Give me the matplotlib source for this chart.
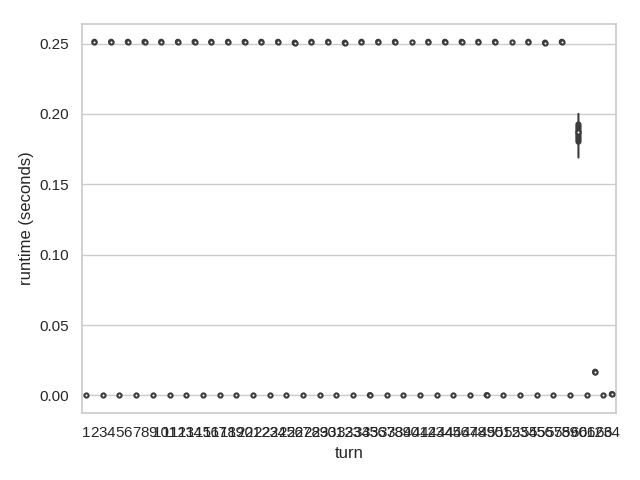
import matplotlib
matplotlib.use('Agg')
import matplotlib.pyplot as plt
import seaborn as sns
import numpy as np

# runtime (seconds) per turn, one list per game, turns 1..64
turns = list(range(1, 65))

game_a = [0.0002, 0.2513, 0.0002, 0.2513, 0.0002, 0.2513, 0.0002, 0.2513,
          0.0002, 0.2513, 0.0002, 0.2513, 0.0002, 0.2513, 0.0002, 0.2513,
          0.0002, 0.2513, 0.0002, 0.2513, 0.0002, 0.2513, 0.0002, 0.2513,
          0.0002, 0.2508, 0.0002, 0.2513, 0.0002, 0.2513, 0.0002, 0.2508,
          0.0002, 0.2513, 0.0002, 0.2513, 0.0002, 0.2513, 0.0002, 0.2512,
          0.0002, 0.2513, 0.0002, 0.2513, 0.0002, 0.2513, 0.0002, 0.2513,
          0.0002, 0.2513, 0.0002, 0.2512, 0.0002, 0.2513, 0.0002, 0.2508,
          0.0002, 0.2513, 0.0002, 0.1690, 0.0002, 0.0160, 0.0002, 0.0008]
game_b = [0.0002, 0.2510, 0.0002, 0.2510, 0.0002, 0.2510, 0.0002, 0.2510,
          0.0002, 0.2510, 0.0002, 0.2510, 0.0002, 0.2510, 0.0002, 0.2510,
          0.0002, 0.2510, 0.0002, 0.2510, 0.0002, 0.2510, 0.0002, 0.2510,
          0.0002, 0.2503, 0.0002, 0.2510, 0.0002, 0.2510, 0.0002, 0.2503,
          0.0002, 0.2510, 0.0002, 0.2510, 0.0002, 0.2510, 0.0002, 0.2512,
          0.0002, 0.2510, 0.0002, 0.2510, 0.0002, 0.2510, 0.0002, 0.2510,
          0.0002, 0.2510, 0.0002, 0.2512, 0.0002, 0.2510, 0.0002, 0.2503,
          0.0002, 0.2510, 0.0002, 0.1840, 0.0002, 0.0170, 0.0002, 0.0010]
game_c = [0.0002, 0.2512, 0.0002, 0.2512, 0.0002, 0.2512, 0.0002, 0.2512,
          0.0002, 0.2512, 0.0002, 0.2512, 0.0002, 0.2512, 0.0002, 0.2512,
          0.0002, 0.2512, 0.0002, 0.2512, 0.0002, 0.2512, 0.0002, 0.2512,
          0.0002, 0.2506, 0.0002, 0.2512, 0.0002, 0.2512, 0.0002, 0.2506,
          0.0002, 0.2512, 0.0002, 0.2512, 0.0002, 0.2512, 0.0002, 0.2512,
          0.0002, 0.2512, 0.0002, 0.2512, 0.0002, 0.2512, 0.0002, 0.2512,
          0.0003, 0.2512, 0.0002, 0.2512, 0.0002, 0.2512, 0.0002, 0.2506,
          0.0002, 0.2512, 0.0002, 0.1900, 0.0002, 0.0165, 0.0002, 0.0009]
game_d = [0.0002, 0.2511, 0.0002, 0.2511, 0.0002, 0.2511, 0.0002, 0.2511,
          0.0002, 0.2511, 0.0002, 0.2511, 0.0002, 0.2511, 0.0002, 0.2511,
          0.0002, 0.2511, 0.0002, 0.2511, 0.0002, 0.2511, 0.0002, 0.2511,
          0.0002, 0.2504, 0.0002, 0.2511, 0.0002, 0.2511, 0.0002, 0.2504,
          0.0002, 0.2511, 0.0003, 0.2511, 0.0002, 0.2511, 0.0002, 0.2512,
          0.0002, 0.2511, 0.0002, 0.2511, 0.0002, 0.2511, 0.0002, 0.2511,
          0.0002, 0.2511, 0.0002, 0.2512, 0.0002, 0.2511, 0.0002, 0.2504,
          0.0002, 0.2511, 0.0002, 0.2000, 0.0002, 0.0168, 0.0002, 0.0010]

GRAY = '#3c3c3c'
LW = 1.5


def draw_inner_boxes(ax, games):
    """Violin-style inner box: whisker line, thick IQR line, white median dot"""
    data = np.array(games)
    for i in range(data.shape[1]):
        vals = data[:, i]
        q25, q50, q75 = np.percentile(vals, [25, 50, 75])
        lim = 1.5 * (q75 - q25)
        lo = vals[vals >= q25 - lim].min()
        hi = vals[vals <= q75 + lim].max()
        ax.plot([i, i], [lo, hi], color=GRAY, linewidth=LW, snap=False)
        ax.plot([i, i], [q25, q75], color=GRAY, linewidth=LW * 3,
                solid_capstyle='round', snap=False)
        ax.scatter(i, q50, zorder=3, color='white', edgecolor=GRAY,
                   s=np.square(LW * 2), linewidths=LW)


def main():
    sns.set_theme(style='whitegrid')
    plt.rcParams['font.family'] = ['Liberation Sans', 'DejaVu Sans']
    fig, ax = plt.subplots(figsize=(6.4, 4.8), dpi=100)
    draw_inner_boxes(ax, [game_a, game_b, game_c, game_d])
    ax.set_xticks(range(len(turns)))
    ax.set_xticklabels([str(t) for t in turns])
    ax.set_xlim(-0.5, len(turns) - 0.5)
    ax.xaxis.grid(False)
    ax.set_xlabel('turn')
    ax.set_ylabel('runtime (seconds)')
    fig.subplots_adjust(left=0.128, right=0.9625, top=0.95, bottom=0.14)
    plt.savefig('out.png')


if __name__ == '__main__':
    main()
